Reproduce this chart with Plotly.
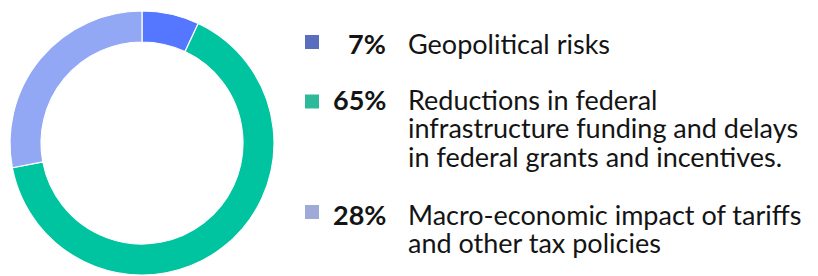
import plotly.graph_objects as go

categories = ["Geopolitical risks",
              "Reductions in federal<br>infrastructure funding and delays<br>in federal grants and incentives.",
              "Macro-economic impact of tariffs<br>and other tax policies"]
values = [7, 65, 28]
pct_labels = ["7%", "65%", "28%"]
slice_colors = ["#5577FF", "#00C39F", "#93A8F5"]
legend_colors = ["#5A6EBE", "#2EB99A", "#A0AAD8"]

W, H = 818, 276

fig = go.Figure()
fig.add_trace(go.Pie(
    values=values,
    labels=[c.replace("<br>", " ") for c in categories],
    sort=False,
    direction="clockwise",
    rotation=0,
    hole=0.765,
    marker=dict(colors=slice_colors, line=dict(color="white", width=1.2)),
    textinfo="none",
    hoverinfo="label+percent",
    domain=dict(x=[10 / W, 274 / W], y=[1 / H, 265 / H]),
    showlegend=False,
))

# layout of legend rows (pixels from top): first-line center, line step
first_line_y = [43, 99.5, 214.5]
line_step = 28.3
square_centers = [42, 101.5, 212]
font_main = "Lato, 'Open Sans', sans-serif"
fsize = 27
txt_color = "#141414"

annotations = []
shapes = []
for i in range(3):
    y0 = first_line_y[i]
    annotations.append(dict(
        x=388 / W, y=1 - y0 / H,
        xref="paper", yref="paper", xanchor="right", yanchor="middle",
        text="<b>" + pct_labels[i] + "</b>", showarrow=False,
        font=dict(family=font_main, size=fsize, color=txt_color)))
    for j, line in enumerate(categories[i].split("<br>")):
        annotations.append(dict(
            x=406 / W, y=1 - (y0 + j * line_step) / H, xref="paper", yref="paper",
            xanchor="left", yanchor="middle", align="left",
            text=line, showarrow=False,
            font=dict(family=font_main, size=fsize, color=txt_color)))
    sc = square_centers[i]
    shapes.append(dict(type="rect", xref="paper", yref="paper",
                       x0=305 / W, x1=319 / W,
                       y0=1 - (sc + 7) / H, y1=1 - (sc - 7) / H,
                       fillcolor=legend_colors[i], line=dict(width=0)))

fig.update_layout(
    width=W, height=H,
    margin=dict(l=0, r=0, t=0, b=0),
    paper_bgcolor="white", plot_bgcolor="white",
    annotations=annotations, shapes=shapes,
)

fig.write_html("out.html", config={"displayModeBar": False},
               post_script="document.body.style.margin='0';")
